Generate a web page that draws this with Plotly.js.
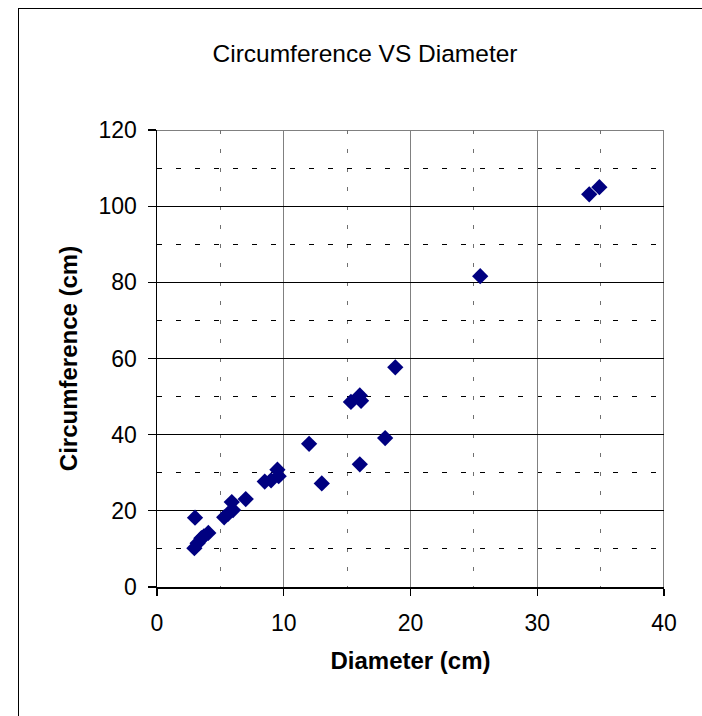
<!DOCTYPE html>
<html>
<head>
<meta charset="utf-8">
<script src="https://cdn.plot.ly/plotly-3.0.1.min.js"></script>
<style>
html,body{margin:0;padding:0;width:702px;height:716px;overflow:hidden;background:#fff;}
#frame{position:absolute;left:18px;top:8px;width:684px;height:708px;border-left:1px solid #000;border-top:1px solid #000;box-sizing:border-box;pointer-events:none;z-index:5;}
#chart{position:absolute;left:0;top:0;width:702px;height:716px;}
</style>
</head>
<body>
<div id="chart"></div>
<div id="frame"></div>
<script>
var chartTitle = "Circumference VS Diameter";
var xTitle = "Diameter (cm)";
var yTitle = "Circumference (cm)";
var diameter = [3.0, 2.95, 3.2, 3.5, 3.7, 4.05, 5.3, 5.6, 5.9, 6.0, 7.0, 8.5, 9.0, 9.5, 9.6, 12.0, 13.0, 15.3, 16.0, 16.1, 16.0, 18.0, 18.8, 25.5, 34.1, 34.9];
var circumference = [18.2, 10.2, 11.5, 12.8, 13.3, 14.2, 18.3, 19.2, 22.3, 20.2, 23.1, 27.7, 28.0, 30.8, 29.1, 37.6, 27.2, 48.6, 50.3, 48.9, 32.2, 39.1, 57.7, 81.6, 103.1, 105.0];
var xTicks = [0, 10, 20, 30, 40];
var yTicks = [0, 20, 40, 60, 80, 100, 120];

var font = "Liberation Sans, Arial, sans-serif";

var trace = {
  x: diameter, y: circumference, type: "scatter", mode: "markers",
  marker: {symbol: "diamond", size: 12.5, color: "#000080", line: {width: 0}},
  hoverinfo: "x+y"
};

var layout = {
  width: 702, height: 716,
  margin: {l: 157, r: 38, t: 130, b: 129, pad: 0},
  paper_bgcolor: "#fff", plot_bgcolor: "#fff",
  showlegend: false,
  font: {family: font, size: 23, color: "#000"},
  title: {text: chartTitle, font: {family: font, size: 24.5, color: "#000"},
          xref: "container", x: 365/702, xanchor: "center",
          yref: "container", y: 1 - 53/716, yanchor: "middle"},
  xaxis: {
    range: [0, 40], tickvals: xTicks, ticktext: xTicks.map(String),
    showline: true, linecolor: "#000", linewidth: 1.5,
    ticks: "outside", ticklen: 7, tickcolor: "#000", tickwidth: 1.2,
    ticklabelstandoff: 8,
    showgrid: true, gridcolor: "#808080", gridwidth: 1.2,
    zeroline: false,
    minor: {dtick: 5, tick0: 0, showgrid: true, gridcolor: "#707070", gridwidth: 1.2, griddash: "4px,15px", ticks: ""},
    tickfont: {family: font, size: 23},
    title: {text: xTitle, font: {family: font, size: 24, weight: "bold"}, standoff: 17}
  },
  yaxis: {
    range: [0, 120], tickvals: yTicks, ticktext: yTicks.map(String),
    showline: true, linecolor: "#000", linewidth: 1.5,
    ticks: "outside", ticklen: 8, tickcolor: "#000", tickwidth: 1.2,
    ticklabelstandoff: 6,
    showgrid: true, gridcolor: "#000", gridwidth: 1.2,
    zeroline: false,
    minor: {dtick: 10, tick0: 0, showgrid: true, gridcolor: "#000", gridwidth: 1, griddash: "5px,14px", ticks: ""},
    tickfont: {family: font, size: 23},
    title: {text: yTitle, font: {family: font, size: 24, weight: "bold"}, standoff: 14}
  },
  shapes: [
    {type: "line", xref: "x", yref: "y", x0: 0, x1: 40, y0: 120, y1: 120, line: {color: "#808080", width: 2}, layer: "below"},
    {type: "line", xref: "x", yref: "y", x0: 40, x1: 40, y0: 0, y1: 120, line: {color: "#808080", width: 2}, layer: "below"}
  ]
};

Plotly.newPlot("chart", [trace], layout, {displayModeBar: false, staticPlot: true});
</script>
</body>
</html>
